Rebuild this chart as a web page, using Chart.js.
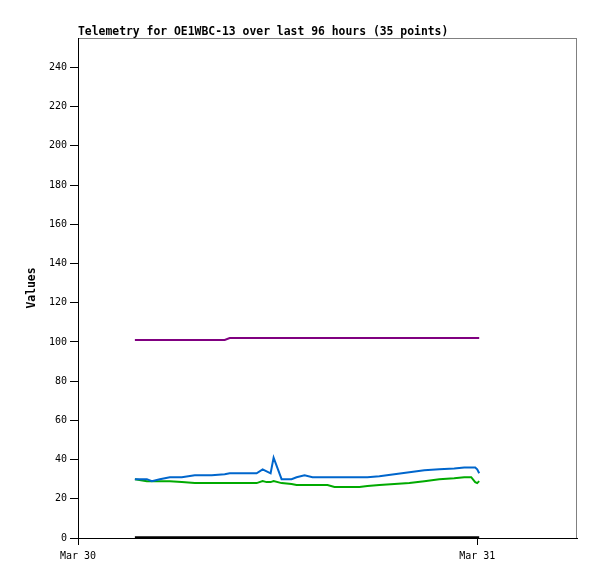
<!DOCTYPE html>
<html>
<head>
<meta charset="utf-8">
<script src="https://cdn.jsdelivr.net/npm/chart.js@4/dist/chart.umd.min.js"></script>
<style>
  html, body { margin: 0; padding: 0; background: #fff; }
  #wrap { width: 597px; height: 579px; }
</style>
</head>
<body>
<div id="wrap"><canvas id="telemetry" width="597" height="579"></canvas></div>
<script>
// hours since Mar 30 00:00
const hours = [3.42, 4.14, 4.44, 4.92, 5.52, 6.24, 7.02, 8.04, 8.82, 9.12,
  10.74, 11.1, 11.34, 11.58, 11.76, 12.24, 12.84, 13.14, 13.62, 14.1,
  15.0, 15.42, 16.92, 17.4, 18.12, 19.02, 19.92, 20.82, 21.72, 22.62,
  23.22, 23.64, 23.88, 24.0, 24.12];
const purpleVals = [101, 101, 101, 101, 101, 101, 101, 101, 101, 102,
  102, 102, 102, 102, 102, 102, 102, 102, 102, 102,
  102, 102, 102, 102, 102, 102, 102, 102, 102, 102,
  102, 102, 102, 102, 102];
const blueVals = [30, 30, 29, 30, 31, 31, 32, 32, 32.5, 33,
  33, 35, 34, 33, 41, 30, 30, 31, 32, 31,
  31, 31, 31, 31, 31.5, 32.5, 33.5, 34.5, 35, 35.5,
  36, 36, 36, 35, 33];
const greenVals = [30, 29, 29, 29, 29, 28.5, 28, 28, 28, 28,
  28, 29, 28.5, 28.5, 29, 28, 27.5, 27, 27, 27,
  27, 26, 26, 26.5, 27, 27.5, 28, 29, 30, 30.5,
  31, 31, 28.5, 28, 29];
const blackVals = [0.4, 0.4, 0.4, 0.4, 0.4, 0.4, 0.4, 0.4, 0.4, 0.4,
  0.4, 0.4, 0.4, 0.4, 0.4, 0.4, 0.4, 0.4, 0.4, 0.4,
  0.4, 0.4, 0.4, 0.4, 0.4, 0.4, 0.4, 0.4, 0.4, 0.4,
  0.4, 0.4, 0.4, 0.4, 0.4];
const xTicks = [0, 24];
const xTickLabels = ['Mar 30', 'Mar 31'];
const yTicks = [0, 20, 40, 60, 80, 100, 120, 140, 160, 180, 200, 220, 240];

const toPoints = (vals) => vals.map((v, i) => ({ x: hours[i], y: v }));
const line = (vals, color) => ({
  data: toPoints(vals), borderColor: color, backgroundColor: color,
  borderWidth: 2, pointRadius: 0, tension: 0, fill: false,
});

const mono = 'DejaVu Sans Mono, Liberation Mono, monospace';

// gray frame on top/right, axes draw black left/bottom on top of it
const framePlugin = {
  id: 'frame',
  beforeDraw(chart) {
    const { ctx, chartArea: a } = chart;
    ctx.save();
    ctx.strokeStyle = '#808080';
    ctx.lineWidth = 1;
    ctx.strokeRect(a.left + 0.5, a.top + 0.5, a.right - a.left - 1, a.bottom - a.top);
    ctx.restore();
  },
};

new Chart(document.getElementById('telemetry'), {
  type: 'line',
  data: {
    datasets: [
      line(purpleVals, '#800080'),
      line(blueVals, '#0066cc'),
      line(greenVals, '#00aa00'),
      line(blackVals, '#000000'),
    ],
  },
  options: {
    responsive: false,
    animation: false,
    events: [],
    layout: { padding: { top: 0, right: 20, bottom: 0, left: 0 } },
    plugins: {
      legend: { display: false },
      tooltip: { enabled: false },
      title: {
        display: true,
        text: 'Telemetry for OE1WBC-13 over last 96 hours (35 points)',
        align: 'start',
        fullSize: false,
        color: '#000',
        font: { family: mono, size: 11.4, weight: 'bold', lineHeight: 1 },
        padding: { top: 26, bottom: 0.6 },
      },
    },
    scales: {
      x: {
        type: 'linear',
        min: 0,
        max: 30,
        afterBuildTicks: (s) => { s.ticks = xTicks.map((v) => ({ value: v })); },
        afterFit: (s) => { s.height = 41; },
        border: { display: true, color: '#000', width: 1 },
        grid: { display: true, drawOnChartArea: false, drawTicks: true, tickLength: 7, color: '#000' },
        ticks: {
          color: '#000', padding: 5, maxRotation: 0, autoSkip: false,
          font: { family: mono, size: 10 },
          callback: (v) => xTickLabels[xTicks.indexOf(v)] ?? '',
        },
      },
      y: {
        min: 0,
        max: 255,
        afterBuildTicks: (s) => { s.ticks = yTicks.map((v) => ({ value: v })); },
        afterFit: (s) => { s.width = 78; },
        border: { display: true, color: '#000', width: 1 },
        grid: { display: true, drawOnChartArea: false, drawTicks: true, tickLength: 8, color: '#000' },
        ticks: { color: '#000', padding: 3, font: { family: mono, size: 10 } },
        title: {
          display: true,
          text: 'Values',
          color: '#000',
          font: { family: mono, size: 11.4, weight: 'bold', lineHeight: 1 },
          padding: { top: 26, bottom: 0 },
        },
      },
    },
  },
  plugins: [framePlugin],
});
</script>
</body>
</html>
